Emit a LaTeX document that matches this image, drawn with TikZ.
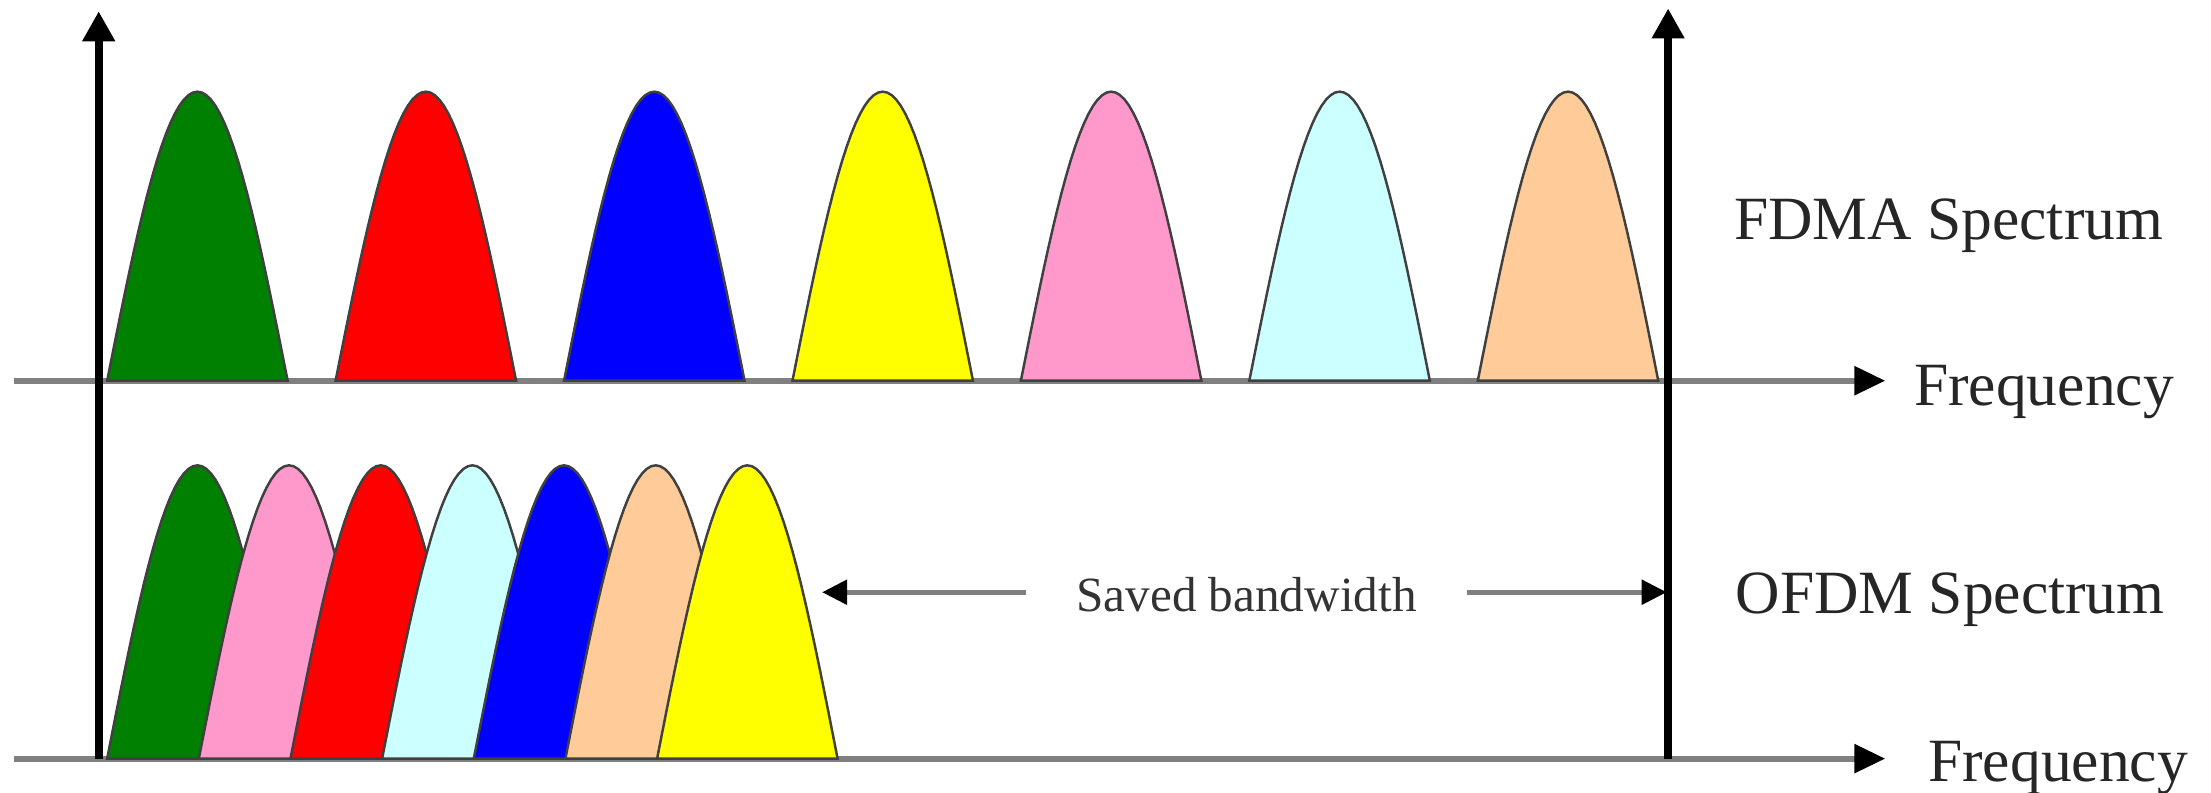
\documentclass[tikz,border=0pt]{standalone}
\usepackage{fontspec}
\setmainfont{Liberation Serif}
\usetikzlibrary{arrows.meta,positioning}
\definecolor{lobegreen}{RGB}{0,128,0}
\definecolor{lobered}{RGB}{255,0,0}
\definecolor{lobeblue}{RGB}{0,0,255}
\definecolor{lobeyellow}{RGB}{255,255,0}
\definecolor{lobepink}{RGB}{255,153,204}
\definecolor{lobecyan}{RGB}{204,255,255}
\definecolor{lobepeach}{RGB}{255,204,153}
\tikzset{
  haxis/.style={-{Triangle[length=3.1mm,width=2.8mm,color=black]},line width=1.7pt,black!50},
  vaxis/.style={-{Triangle[length=3mm,width=3.1mm]},line width=2.2pt,black},
  lobe/.style={draw=black!75,line width=0.7pt},
  gap/.style={-{Triangle[length=2.5mm,width=2.4mm,color=black]},line width=1.5pt,black!50},
  axlbl/.style={font=\fontsize{17.5}{21}\selectfont,text=black!85,inner sep=0pt},
  savlbl/.style={font=\fontsize{14}{17}\selectfont,text=black!80,inner xsep=5mm,inner ysep=0pt},
}

\begin{document}
\begin{tikzpicture}[x=0.141mm,y=-0.141mm]
  \useasboundingbox (0,0) rectangle (1568,562);
  % frequency axes
  \coordinate (a0) at (10,270);  \coordinate (a1) at (1337,270);
  \coordinate (b0) at (10,538);  \coordinate (b1) at (1337,538);
  \draw[haxis] (a0) -- (a1);
  \draw[haxis] (b0) -- (b1);
  % FDMA: sub-carriers with guard bands
  \foreach \col [count=\i from 0] in {lobegreen,lobered,lobeblue,lobeyellow,lobepink,lobecyan,lobepeach}
    \filldraw[lobe,fill=\col] plot[domain=-64:64,samples=41]
      ({140+162*\i+\x},{270-205*cos(90*\x/64)}) -- cycle;
  % OFDM: overlapping sub-carriers
  \foreach \col [count=\i from 0] in {lobegreen,lobepink,lobered,lobecyan,lobeblue,lobepeach,lobeyellow}
    \filldraw[lobe,fill=\col] plot[domain=-64:64,samples=41]
      ({140+65*\i+\x},{538-208*cos(90*\x/64)}) -- cycle;
  % amplitude axes
  \coordinate (l0) at (70,538);   \coordinate (l1) at (70,8);
  \coordinate (r0) at (1183,538); \coordinate (r1) at (1183,6);
  \draw[vaxis] (l0) -- (l1);
  \draw[vaxis] (r0) -- (r1);
  % labels
  \node[axlbl] (fdma) at (1382,160) {FDMA Spectrum};
  \node[axlbl,anchor=west] (freqA) at (1357,278) {Frequency};
  \node[axlbl] (ofdm) at (1383,425) {OFDM Spectrum};
  \node[axlbl,anchor=west] (freqB) at (1367,545) {Frequency};
  % saved bandwidth
  \node[savlbl] (saved) at (884,422) {Saved bandwidth};
  \coordinate (sL) at (583,420);
  \coordinate (sR) at (1182,420);
  \draw[gap] (saved.west |- sL) -- (sL);
  \draw[gap] (saved.east |- sR) -- (sR);
\end{tikzpicture}
\end{document}
